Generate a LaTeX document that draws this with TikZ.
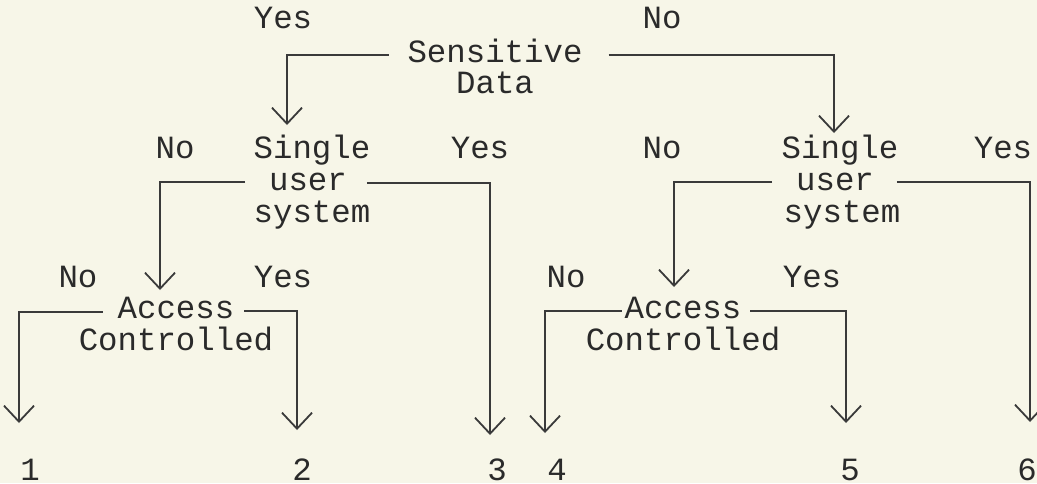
\documentclass[tikz,border=0pt]{standalone}
\usepackage{fontspec}
\setmainfont{Liberation Mono}
\usetikzlibrary{arrows.meta,calc}
\definecolor{paper}{HTML}{F7F6E8}
\definecolor{ink}{HTML}{2A2A2A}
\definecolor{wire}{HTML}{3A3A3A}
\begin{document}
\begin{tikzpicture}[x=0.5pt,y=-0.5pt,
  lbl/.style={anchor=base,inner sep=0pt,outer sep=0pt,font=\fontsize{16.2}{16}\selectfont,text=ink},
  conn/.style={draw=wire,line width=0.75pt,-{Straight Barb[length=8pt,width=15pt,line width=0.9pt]}},
]
\fill[paper] (0,0) rectangle (1037,483);
\useasboundingbox (0,0) rectangle (1037,483);

% top decision
\node[lbl] (yes0) at (283,28) {Yes};
\node[lbl] (no0)  at (662,28) {No};
\node[lbl] (sens) at (495,62) {Sensitive};
\node[lbl] (data) at (495,93) {Data};

% left single user
\node[lbl] (noL)  at (175,158) {No};
\node[lbl] (sgL)  at (312,158) {Single};
\node[lbl] (yesL) at (480,158) {Yes};
\node[lbl] (usL)  at (308,190) {user};
\node[lbl] (syL)  at (312,222) {system};

% right single user
\node[lbl] (noR)  at (662,158) {No};
\node[lbl] (sgR)  at (840,158) {Single};
\node[lbl] (yesR) at (1003,158) {Yes};
\node[lbl] (usR)  at (835,190) {user};
\node[lbl] (syR)  at (842,222) {system};

% left access controlled
\node[lbl] (noLL)  at (78,287) {No};
\node[lbl] (yesLL) at (283,287) {Yes};
\node[lbl] (acL)   at (176,318) {Access};
\node[lbl] (ctL)   at (176,350) {Controlled};

% right access controlled
\node[lbl] (noRL)  at (566,287) {No};
\node[lbl] (yesRL) at (812,287) {Yes};
\node[lbl] (acR)   at (683,318) {Access};
\node[lbl] (ctR)   at (683,350) {Controlled};

% outcomes
\node[lbl] (n1) at (30,480) {1};
\node[lbl] (n2) at (302,480) {2};
\node[lbl] (n3) at (497,480) {3};
\node[lbl] (n4) at (557,480) {4};
\node[lbl] (n5) at (850,480) {5};
\node[lbl] (n6) at (1027,480) {6};

% arrow tips
\coordinate (tA) at (287,125);
\coordinate (tB) at (834,133);
\coordinate (tC) at (160,290);
\coordinate (tD) at (490,435);
\coordinate (tE) at (19,423);
\coordinate (tF) at (297,430);
\coordinate (tG) at (674,287);
\coordinate (tH) at (1030,422);
\coordinate (tI) at (545,433);
\coordinate (tJ) at (846,423);

% connectors
\draw[conn] ($(sens.base west)+(-19,-7)$) -| (tA);
\draw[conn] ($(sens.base east)+(26,-7)$) -| (tB);
\draw[conn] ($(usL.base west)+(-24,-8)$) -| (tC);
\draw[conn] ($(usL.base east)+(20,-7)$) -| (tD);
\draw[conn] ($(usR.base west)+(-24,-8)$) -| (tG);
\draw[conn] ($(usR.base east)+(23,-8)$) -| (tH);
\draw[conn] ($(acL.base west)+(-15,-6)$) -| (tE);
\draw[conn] ($(acL.base east)+(10,-7)$) -| (tF);
\draw[conn] ($(acR.base west)+(-3,-7)$) -| (tI);
\draw[conn] ($(acR.base east)+(9,-7)$) -| (tJ);
\end{tikzpicture}
\end{document}
